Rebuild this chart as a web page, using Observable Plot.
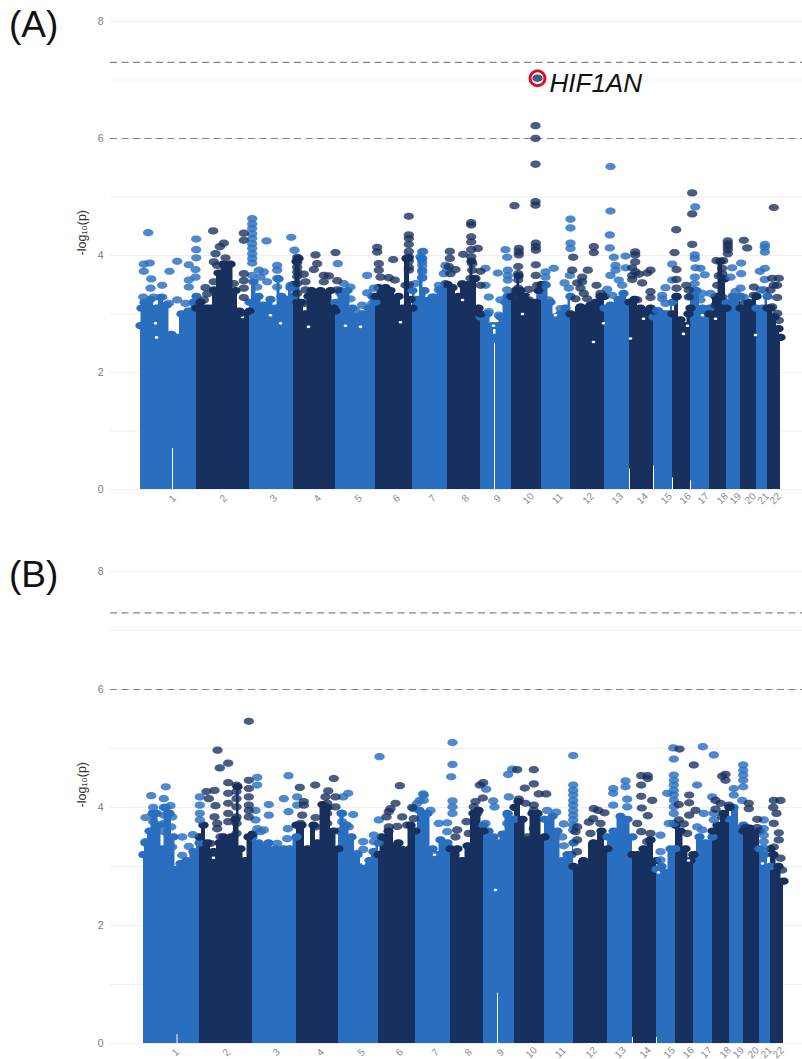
<!DOCTYPE html>
<html>
<head>
<meta charset="utf-8">
<script src="https://cdn.jsdelivr.net/npm/d3@7"></script>
<script src="https://cdn.jsdelivr.net/npm/@observablehq/plot@0.6"></script>
<style>
html,body{margin:0;padding:0;background:#fff;}
#page{position:relative;width:802px;height:1059px;overflow:hidden;font-family:"Liberation Sans",Arial,sans-serif;}
.panel{position:absolute;left:0;}
.tag{position:absolute;left:9px;font-size:37px;line-height:37px;color:#111;}
</style>
</head>
<body>
<div id="page"></div>
<script>
// Chromosome labels, boundaries and label positions on a relative genome axis (0-640)
const chromosomes = ["1","2","3","4","5","6","7","8","9","10","11","12","13","14","15","16","17","18","19","20","21","22"];
const chromEnds = [56,109,153,195,235,272,307,340,371,401,430,464,489,513,532,550,569,586,600,616,627,640];
const labelPos = [32,83,133,177,218,256,292,325,357,388,417,448,477,502,526,545,563,582,595,610,623,635];
const yTicks = [0,2,4,6,8];
const gridLevels = [0,1,2,3,4,5,6,7,8];
const thresholds = [7.3,6];

// Panel A: top of the solid column of points per chromosome [pos, -log10p]
const aTops = [
 [[0,2.8],[1,3.1],[4,3.2],[10,3.25],[16,3.1],[20,3.28],[26,3.15],[31,2.65],[33,2.6],[37,2.6],[41,3.0],[48,3.05],[53,3.2],[56,3.3]],
 [[56,3.1],[60,3.2],[66,3.1],[70,3.1],[74,3.4],[78,3.7],[83,3.85],[90,3.85],[95,3.4],[99,3.05],[104,3.0],[109,3.05]],
 [[109,3.2],[113,3.55],[118,3.3],[123,3.15],[130,3.25],[135,3.1],[138,3.6],[141,3.3],[146,3.25],[150,3.45],[153,3.3]],
 [[153,3.5],[156,3.9],[158,3.95],[161,3.2],[165,3.0],[168,3.3],[171,3.4],[180,3.4],[190,3.4],[193,3.1],[195,3.05]],
 [[195,3.2],[200,3.4],[207,3.4],[212,3.1],[216,2.95],[222,3.0],[228,3.1],[232,3.3],[235,3.2]],
 [[235,3.3],[238,3.45],[245,3.45],[250,3.4],[258,3.3],[262,3.1],[266,3.95],[268,3.95],[270,3.25],[272,3.1]],
 [[272,3.4],[277,3.25],[281,3.95],[284,3.4],[287,3.23],[293,3.29],[300,3.41],[305,3.52],[307,3.5]],
 [[307,3.5],[312,3.45],[318,3.3],[322,3.5],[328,3.5],[331,3.9],[334,3.6],[338,3.1],[340,3.0]],
 [[340,2.95],[347,3.0],[352,2.8],[354,2.6],[357,2.8],[360,2.95],[365,3.2],[367,3.3],[371,3.3]],
 [[371,3.3],[375,3.4],[378,3.65],[380,3.4],[385,3.3],[390,3.2],[395,3.2],[398,3.4],[401,3.5]],
 [[401,3.3],[405,3.5],[410,3.2],[415,2.95],[420,3.0],[425,3.1],[430,3.3]],
 [[430,3.0],[440,3.12],[450,3.15],[455,3.2],[460,3.3],[464,3.3]],
 [[464,3.1],[470,3.15],[478,3.25],[483,3.35],[489,3.2]],
 [[489,3.2],[494,3.25],[500,3.1],[506,3.05],[510,3.1],[513,3.05]],
 [[513,2.95],[518,3.05],[524,3.0],[528,3.0],[532,3.2]],
 [[532,3.0],[536,3.3],[540,2.9],[545,2.8],[548,3.0],[550,3.1]],
 [[550,3.3],[556,3.4],[562,3.1],[569,3.1]],
 [[569,3.0],[575,3.3],[580,3.9],[584,3.6],[586,3.1]],
 [[586,3.2],[592,3.3],[600,3.3]],
 [[600,3.1],[608,3.2],[616,3.3]],
 [[616,3.1],[622,3.1],[627,3.3]],
 [[627,3.1],[630,3.1],[634,2.95],[638,2.75],[640,2.6]]
];
// Panel B: top of the solid column of points per chromosome
const bTops = [
 [[0,3.2],[2,3.4],[6,3.6],[9,3.9],[13,3.9],[16,3.7],[19,3.3],[22,4.0],[26,3.9],[30,3.5],[33,2.95],[37,3.05],[43,3.1],[50,3.25],[56,3.4]],
 [[56,3.5],[60,3.7],[64,3.4],[70,3.25],[76,3.4],[80,3.5],[88,3.5],[92,3.8],[94,4.35],[97,3.3],[102,3.1],[105,3.5],[109,3.55]],
 [[109,3.5],[115,3.4],[125,3.4],[132,3.3],[140,3.3],[146,3.3],[153,3.5]],
 [[153,3.7],[158,3.7],[164,3.3],[170,3.7],[174,3.4],[179,4.05],[184,4.0],[190,3.6],[195,3.3]],
 [[195,3.6],[198,3.9],[203,3.7],[208,3.5],[214,3.2],[220,3.0],[226,3.1],[230,3.25],[235,3.4]],
 [[235,3.2],[238,3.5],[245,3.6],[255,3.4],[262,3.3],[267,3.7],[272,3.6]],
 [[272,3.6],[276,3.95],[284,3.9],[289,3.3],[291,3.1],[294,3.2],[297,3.45],[304,3.4],[307,3.3]],
 [[307,3.3],[314,3.3],[319,3.1],[324,3.35],[330,3.9],[335,3.95],[340,3.6]],
 [[340,3.7],[345,3.6],[350,3.5],[354,3.4],[359,3.55],[364,3.9],[371,3.8]],
 [[371,4.0],[375,4.1],[379,3.8],[384,3.45],[389,3.9],[394,3.9],[401,3.5]],
 [[401,3.8],[409,3.85],[414,3.6],[419,3.1],[424,3.2],[428,3.2],[430,3.4]],
 [[430,3.0],[440,3.1],[450,3.4],[458,3.6],[464,3.3]],
 [[464,3.5],[470,3.6],[477,3.85],[484,3.8],[489,3.5]],
 [[489,3.2],[494,3.2],[500,3.3],[507,3.45],[513,3.1]],
 [[513,2.95],[518,3.0],[522,2.9],[527,3.3],[532,3.3]],
 [[532,3.7],[537,3.6],[542,3.3],[547,3.1],[550,3.2]],
 [[550,3.2],[556,3.5],[562,3.4],[569,3.5]],
 [[569,3.6],[574,3.7],[580,3.9],[586,4.0]],
 [[586,3.8],[590,4.0],[600,3.7]],
 [[600,3.6],[606,3.65],[616,3.6]],
 [[616,3.3],[621,3.2],[627,3.0]],
 [[627,3.3],[630,3.2],[635,3.0],[640,2.75]]
];
// Thin white slits in the columns: [pos, height]
const aSlits = [[32,0.7],[354,2.5],[489,0.35],[513,0.4],[532,0.2],[550,0.15]];
const bSlits = [[33.5,0.15],[354,0.85],[489,0.1],[513,0.1]];
// Small empty spots inside the columns: [pos, -log10p]
const aHoles = [[15,2.84],[16,2.6],[102,2.95],[130,2.98],[140,2.84],[168,2.78],[205,2.8],[220,2.78],[260,2.86],[322,3.24],[353,2.8],[382,3.0],[390,3.3],[415,2.98],[453,2.52],[463,2.84],[490,2.58],[503,2.92],[543,2.66],[547,2.8],[562,2.98],[575,2.92],[615,2.64]];
const bHoles = [[70,3.15],[220,3.05],[262,3.36],[291,3.2],[352,2.6],[515,2.9],[545,3.1],[619,3.05]];

// Panel A single points above the columns: odd chromosomes
const aOddPoints = [
 [7.7,4.39],[9.3,3.87],[3.3,3.85],[3.3,3.73],[10.7,3.6],[10,3.44],[21.7,3.49],[2.7,3.29],[13.3,3.29],[21.7,3.29],[36.7,3.9],[29,3.73],[48.3,3.84],[55.7,4.28],[55.7,4.1],[55.7,3.96],[55,3.76],[55,3.63],[48.3,3.58],[48.3,3.46],[36.7,3.24],[28.3,3.18],[45,3.18],
 [111.7,4.63],[111.7,4.54],[111.7,4.46],[111.7,4.37],[111.7,4.29],[111.7,4.2],[111.7,4.12],[111.7,4.03],[111.7,3.95],[111.7,3.87],[126,4.25],[150.7,4.31],[154,4.09],[136.7,3.83],[136.7,3.75],[118.3,3.75],[123.3,3.72],[111.7,3.66],[120,3.63],[136.7,3.61],[116.7,3.46],[126.7,3.55],[136.7,3.46],[150,3.49],[153.3,3.44],
 [197.3,3.86],[226.7,3.66],[203.3,3.52],[210,3.46],[200,3.35],[210,3.26],[226.7,3.36],[221.7,3.15],[233.3,3.44],[231.7,3.18],[215,3.06],
 [282.7,4.07],[280,3.98],[281.7,3.89],[281.7,3.75],[281.7,3.63],[275,3.52],[281.7,4.06],[281.7,3.95],[281.7,3.83],[281.7,3.72],[281.7,3.61],[305,3.83],[306.7,3.75],[298.3,3.49],[298.3,3.41],[291.7,3.29],[303.3,3.69],
 [345,3.78],[345,3.49],[348.3,3.29],[357.3,3.7],[365,4.1],[366.7,3.97],[367.3,3.75],[367.3,3.66],[367.3,3.58],[360,3.24],[366.7,3.41],[348.3,3.04],[358.3,2.98],
 [430,4.62],[430,4.47],[430,4.21],[430,4.12],[405,3.72],[413.3,3.78],[405,3.63],[424,3.53],[429.3,3.66],[428.3,3.44],[420,3.09],[408.3,3.24],[405,3.49],
 [470,5.52],[470,4.76],[469.3,4.35],[469.3,4.13],[473.3,3.97],[475,3.83],[475,3.75],[470,3.66],[478.3,3.58],[481.7,3.49],[466.7,3.42],[471.7,3.32],[485,3.99],[485,3.79],
 [531.7,3.85],[531.7,3.58],[525,3.45],[521.7,3.32],[521.7,3.26],[525,3.18],[516.7,3.06],
 [554.7,4.83],[554.3,4.01],[554.3,3.95],[555,3.79],[560,3.78],[564.3,3.67],[554.3,3.63],[554.3,3.52],[561.7,3.35],[570,3.35],[553.3,3.41],[560,3.24],
 [591.7,3.79],[600.7,3.87],[600.7,3.69],[590,3.63],[600,3.44],[595,3.38],[603.3,3.29],
 [624.3,4.19],[624.3,4.14],[624.3,4.06],[619.3,3.73],[624.3,3.78],[624.3,3.59],[620,3.41],[623.3,3.41]
];
// Panel A single points above the columns: even chromosomes
const aEvenPoints = [
 [72.7,4.42],[83.3,4.21],[79.3,4.15],[75,4.03],[85,3.96],[73.3,3.89],[76.7,3.83],[65,3.45],[66.7,3.34],[73.3,3.55],[73.3,3.41],[63.3,3.24],[103.3,4.38],[103.3,4.26],[103.3,3.69],[103.3,3.57],[103.3,3.44],[103.3,3.28],[93.3,3.52],[91.7,3.35],[100,3.01],[98.3,2.84],
 [156.7,3.97],[156.7,3.88],[156.7,3.8],[156.7,3.72],[156.7,3.64],[156.7,3.52],[156.7,3.35],[156.7,3.2],[175,4.01],[195,4.05],[176.7,3.86],[173.3,3.76],[183.3,3.66],[188.3,3.65],[163.3,3.68],[165,3.55],[165,3.41],[163.3,3.18],[183.3,3.55],[196.7,3.57],[196.7,3.41],
 [236.7,4.14],[236.7,4.06],[268.3,4.67],[268.3,4.35],[268.3,4.29],[268.3,4.19],[252.7,3.93],[268.3,4.07],[268.3,3.98],[268.3,3.9],[268.3,3.8],[268.3,3.75],[238.3,3.86],[238.3,3.75],[240,3.63],[248.3,3.62],[254.3,3.58],[265,3.49],[268.3,3.5],
 [309.3,4.07],[309.3,3.95],[308.3,3.81],[315,3.76],[310,3.69],[322.7,4.02],[330.7,4.56],[330.7,4.52],[330.7,4.32],[330.7,4.23],[330.7,4.1],[337.3,4.12],[330.7,3.98],[331.7,3.86],[331.7,3.75],[340,3.73],[330,3.61],[335,3.61],[340,3.49],[321.7,3.52],
 [374,4.85],[395,4.92],[395,4.86],[395,6.22],[395,6.0],[395,5.56],[395.3,4.21],[395.3,4.15],[395.3,4.09],[378.3,4.12],[378.3,4.06],[378.3,4.01],[395.3,3.84],[395.3,3.66],[377.7,3.81],[377.7,3.69],[377.7,3.58],[377.7,3.44],[388.3,3.42],[396.7,3.49],[388.3,3.24],
 [432.7,3.97],[431.7,3.75],[453.3,4.15],[453.3,4.05],[447.3,3.75],[441.7,3.63],[441.7,3.55],[436.7,3.53],[440,3.44],[443.3,3.35],[456,3.49],[460,3.35],[446.7,3.26],[435,3.26],
 [494.7,4.06],[494.7,4.01],[494.7,3.89],[491.7,3.79],[495,3.72],[491.7,3.66],[498.3,3.68],[491.7,3.59],[501.7,3.53],[510,3.75],[506.7,3.7],[510,3.38],[510,3.28],[496.7,3.24],
 [535.7,4.44],[534,4.05],[536,3.76],[536,3.59],[536,3.44],[536,3.29],[545.7,3.49],[548.3,3.41],[548.3,3.29],[551.7,4.71],[551.7,5.07],[551.7,4.19],
 [576,3.91],[582.7,3.91],[581.7,3.78],[581.7,3.69],[578.3,3.65],[576.7,3.49],[587.3,4.25],[587.3,4.2],[587.3,4.15],[587.3,4.1],[587.3,4.03],[575,3.15],[581.7,3.29],
 [603.3,4.26],[606.7,4.13],[613.3,3.46],[613.3,3.32],[603.3,3.18],
 [633.3,4.82],[631.7,3.61],[638.3,3.61],[633.3,3.49],[636.7,3.49],[630,3.41],[636.7,3.28],[631.7,3.12],[636.7,3.01],[638.3,2.89]
];
const aHit = [[397,7.03]];
const aHitLabel = ["HIF1AN"];

// Panel B single points above the columns: odd chromosomes
const bOddPoints = [
 [7.7,4.2],[22.3,4.35],[20.3,4.15],[9.7,4.0],[9.7,3.9],[9.7,3.76],[20.3,4.0],[27,4.03],[2,3.83],[20.3,3.87],[20.3,3.73],[20.3,3.59],[28.7,3.84],[27.7,3.67],[38.7,3.5],[38.7,3.19],[49.3,3.54],[45.3,3.34],[2,3.42],[28.7,3.33],
 [56.3,4.18],[56.3,4.04],[56.3,3.9],[56.3,3.79],[113.7,4.51],[113.7,4.38],[112,3.95],[112,3.79],[113.7,3.64],[120.3,3.62],[145,4.54],[125.3,4.05],[125.3,3.87],[140.3,4.15],[145,3.93],[144.3,3.64],[133.7,3.39],[143.7,3.47],[117,3.59],[153.7,4.18],[153.7,4.04],
 [236,4.86],[204.7,4.24],[199.7,4.18],[209.7,3.88],[198.7,3.9],[198.7,3.76],[205.3,3.67],[219.7,3.42],[219.7,3.29],[213.7,3.22],[230.3,3.42],[235.3,3.79],[230.3,3.53],
 [279.7,4.23],[276.3,4.12],[273.7,4.07],[270.3,3.98],[280.3,4.21],[280.3,4.12],[287,3.95],[295.3,3.73],[303.7,3.74],[303.7,3.59],[309,5.1],[309,4.73],[307.7,4.52],[309,4.11],[309,4.01],[309,3.9],
 [342.7,4.31],[349.7,4.11],[351,4.01],[342,3.73],[364.7,4.56],[368.7,4.65],[365.3,4.18],[364.3,3.87],[363.7,3.73],
 [429.7,4.88],[403.7,3.95],[412.7,3.92],[420.3,3.72],[418.7,3.5],[420.3,3.35],[429.7,4.38],[429.7,4.29],[429.7,4.21],[429.7,4.12],[429.7,4.04],[429.7,3.95],[429.7,3.87],[429.7,3.79],[429.7,3.7],[429.7,3.62],
 [469.7,4.32],[482,4.45],[482,4.35],[469.7,4.24],[469.7,4.04],[483.7,4.14],[483.7,4.01],
 [529.7,5.01],[530.3,4.82],[530.3,4.55],[530.3,4.46],[530.3,4.38],[530.3,4.29],[530.3,4.21],[530.3,4.12],[530.3,4.01],[530.3,3.9],[530.3,3.73],[523.7,4.24],[517,3.53],[517,3.25],[517,3.11],[525.3,3.73],
 [559.3,5.03],[570.3,4.89],[553.7,4.38],[560.3,3.9],[568.7,4.18],[553.7,3.67],[558.7,3.62],[570.3,3.79],[570.3,3.9],
 [599.7,4.72],[599.7,4.63],[599.7,4.55],[599.7,4.46],[599.7,4.35],[590.3,4.32],[590.3,4.21],[598.7,4.12],
 [620.3,3.79],[620.3,3.64],[620.3,3.53],[620.3,3.42],[620.3,3.31]
];
// Panel B single points above the columns: even chromosomes
const bEvenPoints = [
 [74,4.97],[76.3,4.67],[84.7,4.75],[84.7,4.42],[93,4.38],[63,4.27],[71,4.29],[65.3,4.15],[72,4.03],[84.7,4.24],[93,4.27],[93,4.15],[84.7,4.07],[93,4.01],[105.3,5.46],[105.3,4.46],[105.3,4.32],[105.3,4.18],[105.3,4.04],[105.3,3.95],[105.3,3.84],[71,3.84],[73.7,3.73],[73.7,3.64],[84.7,3.9],[84.7,3.76],[93,3.84],[93,3.73],[93,3.56],[67,3.39],[77,3.5],
 [156.3,4.34],[171.7,4.38],[190.3,4.49],[184.7,4.28],[182,4.18],[192,4.18],[160.3,4.1],[160.3,4.04],[158.7,3.87],[172,3.83],[183.7,4.07],[183.7,3.9],[192,4.01],[183.7,3.73],[157,3.73],[172,3.67],
 [256.3,4.37],[252,4.07],[247,3.98],[245.3,3.93],[243,3.84],[258.7,3.84],[268.7,4.0],[270.3,3.81],[263.7,3.7],[245.3,3.67],[253.7,3.68],
 [339.7,4.42],[336.3,4.38],[339.3,4.16],[332,4.1],[330.3,4.01],[313.7,3.62],[323,3.76],[312,3.5],[333.7,3.9],[325.3,3.56],
 [373.7,4.64],[390.3,4.64],[381.3,4.33],[390.3,4.4],[395.3,4.23],[402.7,4.23],[375.3,4.14],[390.3,4.04],[390.3,3.95],[382,4.07],[392,3.79],[390.3,3.64],[383.7,3.5],
 [450.3,3.98],[454.7,3.95],[461,3.91],[449.7,3.81],[445.3,3.75],[433.7,3.67],[432,3.59],[433.7,3.45],[433.7,3.25],[457,3.73],[447,3.56],
 [497.7,4.54],[504.3,4.54],[504.3,4.49],[497.7,4.38],[497.7,4.19],[508.7,4.12],[498.3,3.99],[504.3,3.86],[493.7,3.73],[497.7,3.59],[507,3.56],[503.7,3.42],
 [536,4.99],[550.3,4.72],[545.7,4.21],[545.7,4.08],[535.3,4.05],[552,3.95],[545.7,3.87],[535.3,3.79],[540.3,3.72],[543.7,3.56],
 [582,4.56],[578.7,4.53],[582,4.46],[572,4.12],[577,4.07],[585.3,4.04],[572,3.97],[578.7,3.84],
 [605.3,4.07],[605.3,3.98],[613.7,3.8],[602,3.66],[613.7,3.66],
 [630.3,4.12],[637,4.12],[629.7,4.0],[633,3.9],[630.3,3.73],[635.3,3.57],[635.3,3.45],[630.3,3.33],[637,3.14],[638.7,2.94]
];

const oddColor = "#2a6fbf";
const evenColor = "#17305e";
const dotR = 4.3;

// Wide, flattened point as in the reference picture
const flatDot = {
  draw(ctx, size) {
    const r = Math.sqrt(size / Math.PI), rx = r * 1.2, ry = r * 0.85, k = 0.5523;
    ctx.moveTo(rx, 0);
    ctx.bezierCurveTo(rx, k * ry, k * rx, ry, 0, ry);
    ctx.bezierCurveTo(-k * rx, ry, -rx, k * ry, -rx, 0);
    ctx.bezierCurveTo(-rx, -k * ry, -k * rx, -ry, 0, -ry);
    ctx.bezierCurveTo(k * rx, -ry, rx, -k * ry, rx, 0);
    ctx.closePath();
  }
};

function toRows(tops, keepOdd) {
  const rows = [];
  tops.forEach((pts, i) => {
    if ((i % 2 === 0) === keepOdd) pts.forEach(([pos, val]) => rows.push({chr: chromosomes[i], pos, val}));
  });
  return rows;
}

function panel({top, height, marginBottom, range, tops, slits, holes, odd, even, extra}) {
  const oddRows = toRows(tops, true), evenRows = toRows(tops, false);
  const dotOpts = {x: d => d[0], y: d => d[1], symbol: flatDot, r: dotR};
  const plot = Plot.plot({
    width: 802, height, marginTop: 21, marginBottom, marginLeft: 110, marginRight: 0,
    style: {fontFamily: '"Liberation Sans", Arial, sans-serif', background: "transparent"},
    x: {domain: [0, 640], range, axis: null},
    y: {domain: [0, 8], axis: null},
    marks: [
      Plot.ruleY(gridLevels, {stroke: "#efefef", strokeWidth: 1}),
      Plot.ruleY(thresholds, {stroke: "#858585", strokeWidth: 1.2, strokeDasharray: "7,4.5"}),
      Plot.areaY(oddRows, {x: "pos", y: "val", z: "chr", fill: oddColor, curve: "step"}),
      Plot.areaY(evenRows, {x: "pos", y: "val", z: "chr", fill: evenColor, curve: "step"}),
      Plot.dot(oddRows, {x: "pos", y: "val", fill: oddColor, symbol: flatDot, r: dotR}),
      Plot.dot(evenRows, {x: "pos", y: "val", fill: evenColor, symbol: flatDot, r: dotR}),
      Plot.ruleX(slits, {x: d => d[0], y1: 0, y2: d => d[1], stroke: "white", strokeWidth: 1}),
      Plot.dot(holes, {x: d => d[0], y: d => d[1], r: 1.5, fill: "white", symbol: flatDot}),
      Plot.dot(odd, {...dotOpts, fill: oddColor, fillOpacity: 0.82}),
      Plot.dot(even, {...dotOpts, fill: evenColor, fillOpacity: 0.78}),
      Plot.axisY({ticks: yTicks, tickSize: 0, tickPadding: 7, label: null, fill: "#7c7c7c", fontSize: 10.5}),
      Plot.text(["-log\u2081\u2080(p)"], {frameAnchor: "left", dx: -29, rotate: -90, fill: "#333", fontSize: 12.5}),
      Plot.text(labelPos, {x: d => d, text: (d, i) => chromosomes[i], frameAnchor: "bottom", dy: 9, rotate: -45, textAnchor: "middle", lineAnchor: "middle", fill: "#8a8a8a", fontSize: 10}),
      ...(extra || [])
    ]
  });
  plot.classList.add("panel");
  plot.style.top = top + "px";
  return plot;
}

const page = document.getElementById("page");
page.append(panel({
  top: 0, height: 510, marginBottom: 21, range: [140, 780],
  tops: aTops, slits: aSlits, holes: aHoles, odd: aOddPoints, even: aEvenPoints,
  extra: [
    Plot.dot(aHit, {x: d => d[0], y: d => d[1], fill: "#3f5a86", symbol: flatDot, r: dotR}),
    Plot.dot(aHit, {x: d => d[0], y: d => d[1], r: 7.5, fill: "none", stroke: "#d7141e", strokeWidth: 3}),
    Plot.text(aHitLabel, {x: () => aHit[0][0], y: () => aHit[0][1], dx: 12, dy: 5, textAnchor: "start", fontStyle: "italic", fontSize: 26, fill: "#111"})
  ]
}));
page.append(panel({
  top: 550, height: 509, marginBottom: 16, range: [143, 783],
  tops: bTops, slits: bSlits, holes: bHoles, odd: bOddPoints, even: bEvenPoints
}));

for (const [text, top] of [["(A)", 6], ["(B)", 556]]) {
  const d = document.createElement("div");
  d.className = "tag";
  d.style.top = top + "px";
  d.textContent = text;
  page.append(d);
}
</script>
</body>
</html>
